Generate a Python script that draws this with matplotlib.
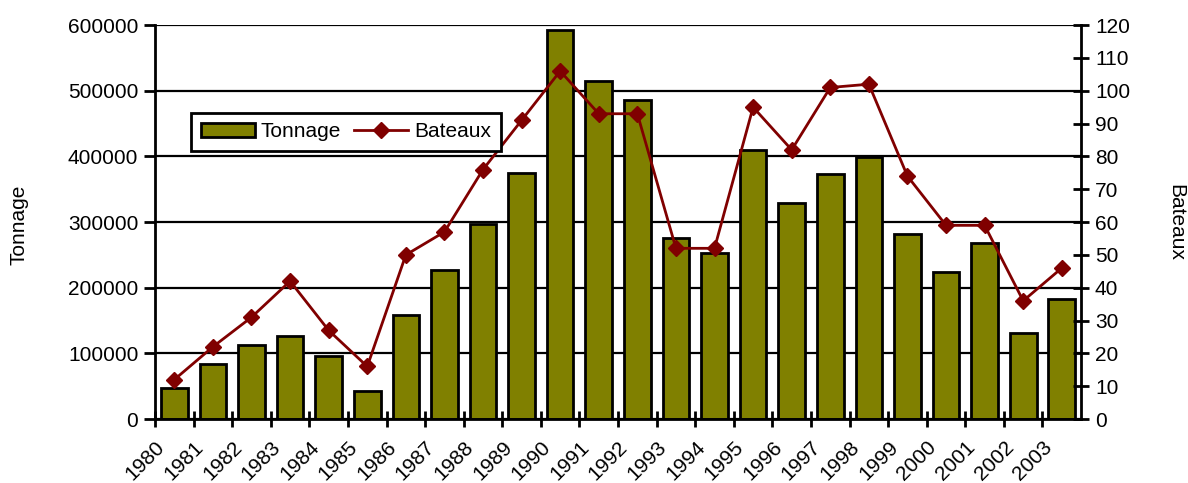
import numpy as np
import matplotlib
matplotlib.use("Agg")
import matplotlib.pyplot as plt

# data
years = [str(y) for y in range(1980, 2004)]
tonnage = [47000, 84000, 113000, 126000, 96000, 43000, 158000, 227000,
           297000, 375000, 592000, 515000, 486000, 276000, 253000, 410000,
           329000, 373000, 399000, 282000, 224000, 268000, 131000, 183000]
bateaux = [12, 22, 31, 42, 27, 16, 50, 57, 76, 91, 106, 93,
           93, 52, 52, 95, 82, 101, 102, 74, 59, 59, 36, 46]

plt.rcParams["font.family"] = ["Liberation Sans", "DejaVu Sans"]
plt.rcParams["font.size"] = 15

fig = plt.figure(figsize=(11.88, 4.83), dpi=100)
ax = fig.add_axes([0.1305, 0.1325, 0.7795, 0.8155])
ax2 = ax.twinx()

x = np.arange(len(years))
bars = ax.bar(x + 0.5, tonnage, width=0.69, color="#808000",
              edgecolor="black", linewidth=2, label="Tonnage", zorder=2)
line, = ax2.plot(x + 0.5, bateaux, color="#800000", linewidth=2,
                 marker="D", markersize=8, label="Bateaux")

ax.set_xlim(0, len(years))
ax.set_ylim(0, 600000)
ax2.set_ylim(0, 120)
ax.set_yticks(range(0, 600001, 100000))
ax2.set_yticks(range(0, 121, 10))

ax.yaxis.grid(True, color="black", linewidth=1.6)
ax.set_axisbelow(True)

ax.set_xticks(x)
ax.set_xticklabels(years, rotation=45, ha="right", rotation_mode="anchor")
for lbl in ax.get_xticklabels():
    lbl.set_transform(lbl.get_transform() +
                      matplotlib.transforms.ScaledTranslation(0.1, -0.02, fig.dpi_scale_trans))

for a in (ax, ax2):
    a.spines["top"].set_visible(False)
ax.spines["right"].set_visible(False)
ax2.spines["left"].set_visible(False)
ax2.spines["bottom"].set_visible(False)
ax.spines["left"].set_linewidth(2)
ax.spines["bottom"].set_linewidth(2)
ax2.spines["right"].set_linewidth(2)

ax.tick_params(axis="x", direction="inout", length=11, width=2, pad=8)
ax.tick_params(axis="y", direction="out", length=8, width=2, pad=4)
ax2.tick_params(axis="y", direction="inout", length=12, width=2, pad=4)

fig.text(0.016, 0.535, "Tonnage", rotation=90, ha="center", va="center")
fig.text(0.99, 0.54, "Bateaux", rotation=-90, ha="center", va="center")

leg = ax2.legend([bars, line], ["Tonnage", "Bateaux"], loc="upper left",
                 bbox_to_anchor=(0.039, 0.777), ncol=2, frameon=True,
                 fancybox=False, edgecolor="black", framealpha=1,
                 borderpad=0.45, handlelength=2.6, handleheight=0.6,
                 columnspacing=0.6, handletextpad=0.3, borderaxespad=0)
leg.get_frame().set_linewidth(2)

fig.savefig("out.png", dpi=100)
